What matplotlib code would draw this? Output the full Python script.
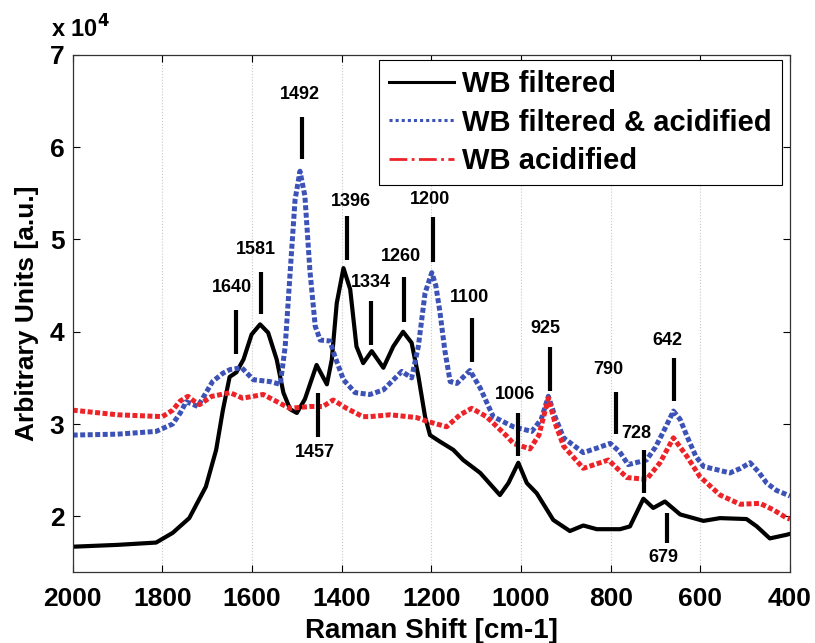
import numpy as np
import matplotlib.pyplot as plt
from matplotlib.lines import Line2D

# -------- data (intensity in units of 1e4) --------
black_x = [2000, 1900, 1814, 1777, 1740, 1703, 1680, 1665, 1650, 1635, 1619, 1601, 1582, 1564,
           1545, 1530, 1515, 1500, 1482, 1456, 1433, 1422, 1411, 1396, 1381, 1367, 1352, 1333,
           1307, 1285, 1263, 1244, 1229, 1214, 1203, 1181, 1151, 1129, 1091, 1047, 1028, 1006,
           987, 965, 928, 891, 861, 831, 779, 757, 727, 705, 679, 645, 593, 556, 497, 474,
           445, 407, 400]
black_y = [1.67, 1.69, 1.715, 1.82, 1.98, 2.32, 2.72, 3.15, 3.51, 3.56, 3.70, 3.97, 4.08, 3.99,
           3.70, 3.34, 3.16, 3.12, 3.27, 3.64, 3.43, 3.70, 4.31, 4.69, 4.46, 3.84, 3.66, 3.79,
           3.61, 3.84, 4.00, 3.88, 3.52, 3.08, 2.88, 2.81, 2.72, 2.61, 2.47, 2.23, 2.36, 2.58,
           2.36, 2.25, 1.96, 1.84, 1.90, 1.86, 1.86, 1.89, 2.19, 2.09, 2.16, 2.02, 1.95, 1.98,
           1.97, 1.89, 1.76, 1.80, 1.81]

blue_x = [2000, 1900, 1814, 1777, 1760, 1747, 1735, 1721, 1705, 1688, 1665, 1649, 1623, 1597,
          1560, 1537, 1526, 1515, 1504, 1493, 1482, 1471, 1459, 1448, 1426, 1415, 1396, 1370,
          1337, 1307, 1266, 1244, 1229, 1214, 1199, 1190, 1181, 1170, 1158, 1143, 1114, 1091,
          1062, 1017, 976, 955, 939, 924, 905, 861, 830, 801, 780, 761, 720, 700, 682, 660,
          645, 630, 610, 593, 534, 510, 489, 470, 452, 430, 400]
blue_y = [2.88, 2.89, 2.92, 3.00, 3.12, 3.24, 3.22, 3.19, 3.32, 3.46, 3.55, 3.59, 3.61, 3.48,
          3.46, 3.43, 3.84, 4.64, 5.43, 5.74, 5.47, 4.67, 4.06, 3.91, 3.90, 3.73, 3.48, 3.34,
          3.32, 3.37, 3.57, 3.50, 3.84, 4.42, 4.64, 4.50, 4.22, 3.80, 3.46, 3.44, 3.58, 3.39,
          3.08, 2.97, 2.92, 3.05, 3.30, 3.08, 2.85, 2.69, 2.74, 2.79, 2.70, 2.56, 2.61, 2.75,
          2.92, 3.14, 3.05, 2.87, 2.65, 2.54, 2.47, 2.52, 2.58, 2.48, 2.36, 2.28, 2.22]

red_x = [2000, 1900, 1800, 1777, 1760, 1743, 1730, 1717, 1690, 1658, 1649, 1621, 1575, 1524,
         1515, 1471, 1442, 1419, 1389, 1353, 1337, 1292, 1233, 1210, 1166, 1136, 1110, 1077,
         1032, 1017, 980, 960, 939, 924, 905, 861, 805, 764, 720, 690, 660, 630, 601, 556,
         511, 467, 437, 407, 400]
red_y = [3.15, 3.10, 3.08, 3.15, 3.25, 3.30, 3.25, 3.21, 3.30, 3.33, 3.34, 3.28, 3.32, 3.19,
         3.17, 3.19, 3.19, 3.26, 3.17, 3.08, 3.08, 3.10, 3.07, 3.03, 2.97, 3.10, 3.17, 3.08,
         2.87, 2.79, 2.73, 2.88, 3.28, 3.01, 2.76, 2.52, 2.61, 2.42, 2.40, 2.58, 2.85, 2.65,
         2.43, 2.23, 2.13, 2.14, 2.07, 1.98, 1.97]

# peak markers: label, bar x, bar bottom, bar top, label x, label y
peak_labels = ['1640', '1581', '1492', '1457', '1396', '1334', '1260', '1200', '1100',
               '1006', '925', '790', '728', '642', '679']
bar_x   = [1636, 1581, 1489, 1453, 1389, 1335, 1260, 1197, 1110, 1006, 935, 789, 726, 658, 674]
bar_lo  = [3.76, 4.19, 5.87, 2.86, 4.78, 3.86, 4.11, 4.76, 3.67, 2.65, 3.36, 2.89, 2.25, 3.25, 1.71]
bar_hi  = [4.24, 4.65, 6.33, 3.34, 5.25, 4.33, 4.59, 5.24, 4.15, 3.12, 3.83, 3.35, 2.72, 3.72, 2.04]
label_x = [1645, 1591, 1493, 1459, 1379, 1335, 1268, 1203, 1114, 1013, 946, 805, 742, 674, 683]
label_y = [4.48, 4.89, 6.57, 2.69, 5.41, 4.53, 4.82, 5.43, 4.37, 3.32, 4.03, 3.59, 2.90, 3.91, 1.55]

BLUE = '#3c52b6'
RED = '#ee2328'
FONT = 'Liberation Sans'

plt.rcParams['font.family'] = FONT
plt.rcParams['font.weight'] = 'bold'

fig = plt.figure(figsize=(8.15, 6.43), dpi=100)
ax = fig.add_axes([0.0892, 0.111, 0.8801, 0.8035])

ax.plot(black_x, black_y, color='black', linewidth=3.0, solid_capstyle='round')
ax.plot(blue_x, blue_y, color=BLUE, linewidth=3.6, linestyle=(0, (1, 0.5)))
ax.plot(red_x, red_y, color=RED, linewidth=3.6, linestyle=(0, (1, 0.5)))

# peak bars and labels
for lab, bx, lo, hi, lx, ly in zip(peak_labels, bar_x, bar_lo, bar_hi, label_x, label_y):
    ax.plot([bx, bx], [lo, hi], color='black', linewidth=3.0, solid_capstyle='butt')
    ax.text(lx, ly, lab, fontsize=13, fontweight='bold', ha='center', va='center')

ax.set_xlim(2000, 400)
ax.set_ylim(1.4, 7)
ax.set_xticks(np.arange(2000, 399, -200))
ax.set_yticks([2, 3, 4, 5, 6, 7])
ax.xaxis.grid(True, linestyle=':', color='#c8c8c8', linewidth=0.8)
ax.tick_params(direction='in', length=5, width=0.8, labelsize=19, top=True, right=True)
ax.tick_params(axis='x', pad=11)
ax.tick_params(axis='y', pad=6)
for sp in ax.spines.values():
    sp.set_linewidth(0.9)
    sp.set_color('#333333')

ax.set_xlabel('Raman Shift [cm-1]', fontsize=20, fontweight='bold', labelpad=5)
ax.set_ylabel('Arbitrary Units [a.u.]', fontsize=19, fontweight='bold', labelpad=8)
ax.text(-0.030, 1.034, r'x 10$^{\mathbf{4}}$', transform=ax.transAxes, fontsize=17,
        fontweight='bold', ha='left', va='baseline')

handles = [Line2D([], [], color='black', linewidth=2.2),
           Line2D([], [], color=BLUE, linewidth=2.2, linestyle=(0, (1, 1))),
           Line2D([], [], color=RED, linewidth=2.0, linestyle='-.')]
names = ['WB filtered', 'WB filtered & acidified', 'WB acidified']
leg = ax.legend(handles, names, loc='upper right', bbox_to_anchor=(0.989, 0.990),
                borderaxespad=0, handlelength=2.2, handletextpad=0.3,
                labelspacing=0.35, borderpad=0.35, fancybox=False, framealpha=1,
                edgecolor='black', prop={'family': FONT, 'weight': 'bold', 'size': 21})
leg.get_frame().set_linewidth(0.8)

plt.savefig('out.png', dpi=100)
